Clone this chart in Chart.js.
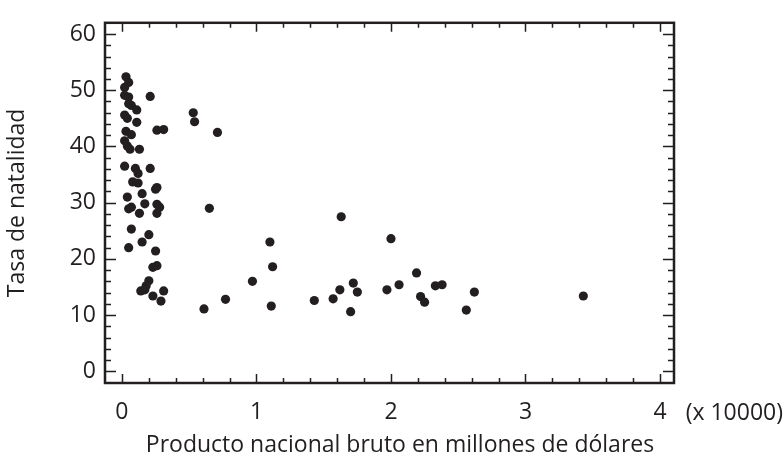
<!DOCTYPE html>
<html>
<head>
<meta charset="utf-8">
<script src="https://cdn.jsdelivr.net/npm/chart.js@4.4.1/dist/chart.umd.min.js"></script>
<style>
  body { margin: 0; background: #fff; }
  canvas { display: block; }
</style>
</head>
<body>
<canvas id="scatter" width="784" height="464"></canvas>
<script>
'use strict';

// PNB (x 10000 millones de dólares) y tasa de natalidad por país
const gnpValues = [
  0.03, 0.05, 0.02, 0.02, 0.05, 0.21, 0.05, 0.07, 0.11, 0.02, 0.04, 0.11,
  0.53, 0.54, 0.26, 0.31, 0.71, 0.03, 0.07, 0.02, 0.04, 0.06, 0.13,
  0.02, 0.10, 0.12, 0.21, 0.08, 0.12, 0.25, 0.26, 0.15, 0.04, 0.17, 0.26,
  0.28, 0.05, 0.07, 0.13, 0.26, 0.07, 0.20,
  0.15, 0.05, 0.25, 0.23, 0.26, 0.20, 0.18, 0.14, 0.17, 0.31, 0.23, 0.29,
  0.61, 0.77, 0.97, 1.10, 1.12, 1.11, 0.65,
  1.63, 2.00, 1.43, 1.57, 1.62, 1.72, 1.75, 1.70, 1.97, 2.06, 2.19, 2.22,
  2.25, 2.33, 2.38, 2.56, 2.62, 3.43
];
const birthRates = [
  52.4, 51.4, 50.5, 49.1, 48.8, 48.9, 47.6, 47.3, 46.5, 45.6, 45.0, 44.3,
  46.0, 44.4, 42.9, 43.0, 42.5, 42.7, 42.1, 41.0, 40.1, 39.5, 39.5,
  36.5, 36.1, 35.2, 36.1, 33.7, 33.5, 32.4, 32.7, 31.6, 31.0, 29.8, 29.7,
  29.2, 28.9, 29.2, 28.1, 28.1, 25.3, 24.3,
  23.0, 22.0, 21.4, 18.5, 18.8, 16.1, 15.2, 14.3, 14.5, 14.3, 13.4, 12.5,
  11.1, 12.8, 16.0, 23.0, 18.6, 11.6, 29.0,
  27.5, 23.6, 12.6, 12.9, 14.5, 15.7, 14.1, 10.6, 14.5, 15.4, 17.5, 13.3,
  12.3, 15.2, 15.4, 10.9, 14.1, 13.4
];

const xTickValues = [0, 1, 2, 3, 4];
const yTickValues = [0, 10, 20, 30, 40, 50, 60];

const ink = '#231f20';
const fontFamily = '"Open Sans", "DejaVu Sans", sans-serif';

// frame on all four sides with inward ticks (minor + major)
const framePlugin = {
  id: 'framePlugin',
  afterDatasetsDraw(chart) {
    const ctx = chart.ctx;
    const area = chart.chartArea;
    const xs = chart.scales.x;
    const ys = chart.scales.y;
    ctx.save();
    ctx.strokeStyle = ink;
    ctx.lineWidth = 1.5;
    ctx.beginPath();
    // x ticks every 0.2, long at whole numbers
    for (let i = 0; i <= 20; i++) {
      const v = i * 0.2;
      const px = Math.round(xs.getPixelForValue(v)) + 0.5;
      const len = i % 5 === 0 ? 9 : 5;
      ctx.moveTo(px, area.bottom);
      ctx.lineTo(px, area.bottom - len);
      ctx.moveTo(px, area.top);
      ctx.lineTo(px, area.top + len);
    }
    // y ticks every 2, long every 10
    for (let i = 0; i <= 30; i++) {
      const v = i * 2;
      const py = Math.round(ys.getPixelForValue(v)) + 0.5;
      const len = i % 5 === 0 ? 11 : 6;
      ctx.moveTo(area.left, py);
      ctx.lineTo(area.left + len, py);
      ctx.moveTo(area.right, py);
      ctx.lineTo(area.right - len, py);
    }
    ctx.stroke();

    ctx.lineWidth = 2.5;
    ctx.strokeRect(area.left, area.top, area.right - area.left, area.bottom - area.top);

    ctx.fillStyle = ink;
    ctx.font = '23px ' + fontFamily;
    ctx.textBaseline = 'middle';
    // scale factor note next to the last x tick
    ctx.textAlign = 'right';
    ctx.fillText('(x 10000)', 783, 413);
    // x axis title
    ctx.textAlign = 'center';
    ctx.fillText('Producto nacional bruto en millones de dólares', 400, 445);
    ctx.restore();
  }
};

const ctx = document.getElementById('scatter').getContext('2d');

new Chart(ctx, {
  type: 'scatter',
  data: {
    datasets: [{
      data: gnpValues.map((x, i) => ({ x: x, y: birthRates[i] })),
      backgroundColor: ink,
      borderColor: ink,
      pointRadius: 4.6,
      pointHoverRadius: 4.6,
      borderWidth: 0
    }]
  },
  options: {
    responsive: false,
    animation: false,
    layout: { padding: { top: 14, right: 110, left: 0, bottom: 0 } },
    plugins: {
      legend: { display: false },
      tooltip: { enabled: false }
    },
    scales: {
      x: {
        type: 'linear',
        min: -0.126,
        max: 4.104,
        afterFit: (scale) => { scale.height = 81; },
        afterBuildTicks: (scale) => { scale.ticks = xTickValues.map(v => ({ value: v })); },
        grid: { display: false, drawTicks: false },
        border: { display: false },
        ticks: {
          padding: 16,
          color: ink,
          font: { family: fontFamily, size: 23 },
          maxRotation: 0
        }
      },
      y: {
        type: 'linear',
        min: -2.08,
        max: 62,
        afterFit: (scale) => { scale.width = 105; },
        afterBuildTicks: (scale) => { scale.ticks = yTickValues.map(v => ({ value: v })); },
        grid: { display: false, drawTicks: false },
        border: { display: false },
        ticks: {
          padding: 9,
          color: ink,
          font: { family: fontFamily, size: 23 }
        },
        title: {
          display: true,
          text: 'Tasa de natalidad',
          color: ink,
          font: { family: fontFamily, size: 23 },
          padding: { top: 4, bottom: 0 }
        }
      }
    }
  },
  plugins: [framePlugin]
});
</script>
</body>
</html>
